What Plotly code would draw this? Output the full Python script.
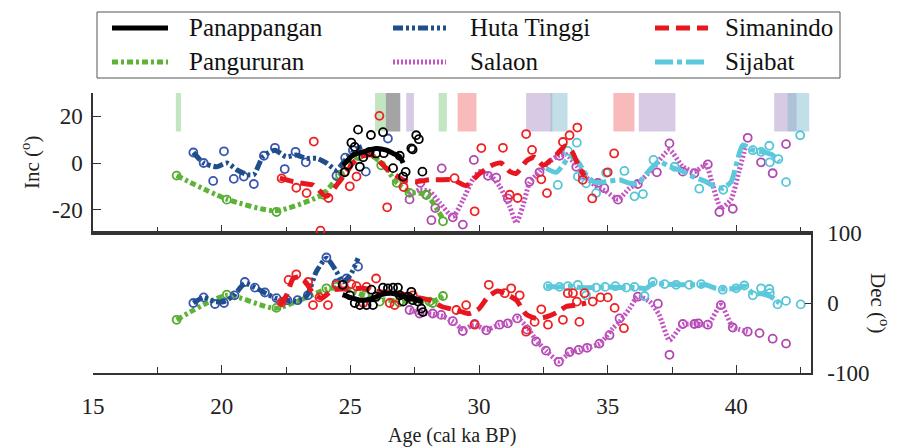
import plotly.graph_objects as go

# ---------------- Pangururan ----------------
pangururan_inc_age = [18.25, 20.2, 22.13, 23.95, 24.6, 25.3, 26.2, 26.8, 27.3, 27.95, 28.6]
pangururan_inc = [-5.4, -15.7, -21.0, -13.6, -5.0, 3.0, -1.0, -8.5, -12.8, -13.6, -25.0]
pangururan_inc_fit_age = [18.25, 20.2, 22.1, 23.9, 24.6, 25.3, 25.7, 26.3, 26.8, 27.3, 27.95, 28.6]
pangururan_inc_fit = [-5.4, -15.5, -20.5, -13.6, -5.0, 3.0, 4.0, -1.0, -8.5, -12.5, -13.6, -24.0]
pangururan_dec_age = [18.25, 20.2, 22.13, 24.07, 24.46, 25.56, 26.14, 26.9, 28.08, 28.2, 28.6]
pangururan_dec = [-24, 12, -7, 21, 23, 11, 2, 1, 2, 0, 10]
pangururan_dec_fit_age = [18.25, 20.2, 22.1, 24.1, 24.6, 25.3, 26.0, 26.8, 27.6, 28.1, 28.6]
pangururan_dec_fit = [-24, 11, -7.6, 20, 22, 14, 6, 3, 2, 0, 10]

# ---------------- Huta Tinggi ----------------
huta_inc_age = [18.9, 19.3, 19.67, 20.09, 20.47, 20.86, 21.25, 21.64, 22.07, 22.45, 22.87, 23.27,
                24.46, 24.8, 25.1, 25.6, 26.46]
huta_inc = [4.5, 0.0, -7.7, 5.0, -6.8, -5.8, -9.0, 3.1, 6.5, -2.6, 4.8, 0.3,
            -5.5, 2.3, 5.5, -3.7, 10.5]
huta_inc_fit_age = [18.9, 19.3, 19.8, 20.2, 20.6, 21.0, 21.25, 21.6, 22.07, 22.5, 22.9, 23.27,
                    23.7, 24.07, 24.46, 24.85, 25.24, 25.45]
huta_inc_fit = [4.5, 0.0, -1.6, 0.0, -3.0, -5.0, -5.0, 2.7, 5.5, 2.7, 3.4, 2.0,
                2.0, 0.0, -3.0, 2.0, 6.0, 7.0]
huta_dec_age = [18.9, 19.3, 19.74, 20.09, 20.5, 20.9, 21.29, 21.68, 22.13, 22.55, 22.95, 23.35,
                24.07, 24.46, 24.85, 25.3]
huta_dec = [0, 8, -1.4, 0, 11, 30, 22, 15, 7, 4, 4, 11, 65, 28, 35, 52]
huta_dec_fit_age = [18.9, 19.3, 19.7, 20.1, 20.5, 20.9, 21.3, 21.7, 22.1, 22.5, 22.9, 23.3,
                    23.68, 24.07, 24.46, 24.7, 25.0, 25.3]
huta_dec_fit = [0, 8, 2, 2, 12, 28, 22, 14, 7, 4, 3, 10, 45, 64, 45, 30, 40, 64]

# ---------------- Panappangan ----------------
panap_inc_age = [24.78, 24.91, 25.04, 25.17, 25.3, 25.37, 25.5, 25.75, 25.8, 26.0, 26.27, 26.3,
                 26.66, 26.92, 27.05, 27.15, 27.37, 27.42, 27.56, 27.66, 27.8]
panap_inc = [-4.0, -0.9, 8.7, 6.9, 14.3, -1.6, 2.5, 4.8, 12.0, 4.1, 13.2, 4.2,
             -2.2, 3.1, -5.8, -3.8, 6.3, 5.8, 11.9, 10.2, -3.7]
panap_inc_fit_age = [24.72, 25.1, 25.5, 26.0, 26.4, 26.66, 26.92, 27.05]
panap_inc_fit = [-0.9, 3.4, 4.8, 6.2, 5.5, 4.1, 2.7, 0.0]
panap_dec_age = [24.7, 24.98, 25.17, 25.37, 25.63, 25.82, 25.88, 26.0, 26.27, 26.46, 26.66, 26.85,
                 26.92, 27.05, 27.24, 27.37, 27.43, 27.63, 27.76, 27.82]
panap_dec = [26, 11, 0, -3, -3, 19, -3, 9, 22, 21, 22, 22, 11, 2, 9, 16, 4, 2, -8, -13]
panap_dec_fit_age = [24.7, 25.0, 25.4, 25.8, 26.2, 26.6, 27.0, 27.4, 27.8]
panap_dec_fit = [12, 8, 4, 6, 12, 14, 10, 6, 2]

# ---------------- Simanindo ----------------
siman_inc_age = [22.33, 22.9, 23.3, 23.58, 23.84, 24.15, 24.78, 24.98, 25.24, 26.13, 26.43, 27.07,
                 29.05, 29.83, 30.09, 30.93, 31.19, 31.5, 31.83, 32.06, 32.42, 32.64, 33.26, 33.52,
                 33.82, 34.03, 34.4, 35.0, 35.25]
siman_inc = [-6.6, -10.6, -12.9, 9.2, -29.0, -15.0, -3.7, -10.0, -5.8, 20.2, -19.0, -10.3,
             -6.5, -20.7, 6.4, 6.5, -13.6, -15.0, 12.4, 5.6, -7.0, -12.9, 9.0, 11.9,
             15.2, -7.2, -15.2, -4.0, 4.1]
siman_inc_fit_age = [22.26, 22.78, 23.3, 23.55, 24.07, 24.5, 24.85, 25.1, 25.4, 25.8, 26.1, 26.4,
                     26.8, 27.1, 27.56, 28.08, 28.5, 29.0, 29.5, 30.0, 30.5, 30.85, 31.2, 31.45,
                     31.85, 32.15, 32.5, 33.0, 33.35, 33.6, 33.9, 34.1]
siman_inc_fit = [-6.5, -8.0, -9.0, -9.4, -14.3, -9.0, -4.0, 0.0, 2.7, 3.5, 1.0, -2.3,
                 -5.5, -7.5, -8.0, -7.2, -7.2, -7.2, -9.7, -4.7, -1.0, 0.0, -3.7, -4.4,
                 1.0, 2.5, -1.0, 3.4, 7.3, 5.2, -2.0, -5.5]
siman_dec_age = [22.33, 22.6, 22.9, 23.36, 23.55, 23.8, 24.13, 24.46, 25.04, 25.24, 25.5, 25.63,
                 26.0, 26.53, 26.72, 27.3, 27.43, 29.12, 29.5, 29.83, 30.38, 31.0, 31.25, 31.58,
                 31.83, 32.16, 32.42, 32.68, 33.26, 33.45, 33.65, 33.8, 33.9, 34.1, 34.42, 34.72,
                 35.0, 35.27, 35.63]
siman_dec = [1, 33, 41, 30, -3, 8, -3, 26, 27, 24, 0, 23,
             35, 0, -3, 8, 11, -10, -3, -31, 26, 14, 21, 11,
             -41, -27, -9, -31, -24, 14, 14, 2, -27, 14, 2, 8,
             8, -7, -36]
siman_dec_fit_age = [22.26, 22.52, 22.78, 23.05, 23.3, 23.55, 23.88, 24.33, 24.85, 25.5, 26.14, 26.79,
                     27.43, 28.08, 28.55, 29.1, 29.63, 30.0, 30.35, 30.73, 31.1, 31.45, 31.83, 32.22,
                     32.6, 33.0, 33.39, 33.78, 34.16]
siman_dec_fit = [-3, 11, 35, 37, 28, 14, 7, 19, 20, 21, 16, 14,
                 9, 4, -5, -10, -15, -8, 9, 17, 12, 4, -16, -22,
                 -20, -14, -5, -3, 0]

# ---------------- Salaon ----------------
salaon_inc_age = [27.3, 27.72, 27.95, 28.15, 28.3, 28.55, 28.98, 29.37, 29.8, 30.35, 30.67, 31.12,
                  31.96, 32.35, 33.13, 33.78, 34.03, 34.62, 34.87, 35.4, 36.17, 36.91, 37.4, 37.92,
                  38.37, 38.89, 39.34, 39.86, 40.44, 40.96, 41.41, 41.93]
salaon_inc = [-15.6, -8.5, -13.6, -24.5, -19.3, -2.3, -23.3, -26.4, 1.3, -5.5, -6.3, -15.2,
              -8.0, -4.0, 3.1, -1.6, -5.0, -8.5, -10.8, -15.7, -9.0, -4.0, 8.4, -3.7,
              -4.4, -0.6, -21.0, -19.6, 10.8, 0.3, -4.4, 8.1]
salaon_inc_fit_age = [27.3, 27.7, 28.08, 28.47, 28.98, 29.37, 29.76, 30.02, 30.41, 30.8, 31.19, 31.45,
                      31.7, 31.96, 32.35, 32.74, 33.13, 33.4, 33.78, 34.16, 34.55, 34.94, 35.4, 35.85,
                      36.24, 36.75, 37.4, 37.92, 38.37, 38.82, 39.08, 39.4, 39.79, 40.1, 40.37]
salaon_inc_fit = [-13.6, -11.5, -12.2, -17.0, -23.0, -16.0, -7.0, -3.7, -5.0, -10.0, -18.6, -25.6,
                  -18.6, -8.7, -3.7, 0.6, 3.4, 3.5, -1.0, -6.0, -10.0, -12.2, -15.5, -10.8,
                  -8.0, -2.3, 5.5, -1.6, -3.7, -0.9, -9.4, -19.3, -15.7, -3.7, 7.7]
salaon_dec_age = [27.3, 27.69, 28.2, 28.53, 28.98, 29.37, 29.83, 30.28, 30.8, 31.12, 31.48, 31.86,
                  32.22, 32.6, 33.1, 33.52, 33.87, 34.2, 34.68, 35.07, 35.46, 36.17, 36.95, 37.4,
                  37.92, 38.37, 38.52, 38.89, 39.4, 39.86, 40.44, 40.9, 41.41, 41.93]
salaon_dec = [-10, -15, -15, -17, -26, -40, -30, -39, -31, -29, -22, -38,
              -55, -68, -84, -70, -67, -64, -58, -46, -22, 9, -1, -74,
              -30, -30, -29, -31, -3, -35, -41, -43, -51, -58]
salaon_dec_fit_age = [27.3, 27.7, 28.2, 28.6, 29.0, 29.4, 29.8, 30.3, 30.8, 31.1, 31.5, 31.9,
                      32.2, 32.6, 33.1, 33.5, 33.9, 34.3, 34.7, 35.2, 35.46, 35.85, 36.17, 36.63,
                      37.0, 37.4, 37.92, 38.44, 38.89, 39.4, 39.86, 40.44]
salaon_dec_fit = [-10, -14, -16, -19, -27, -38, -31, -38, -31, -29, -22, -36,
                  -52, -68, -83, -72, -67, -63, -58, -36, -27, -8, 9, 2,
                  -17, -53, -31, -30, -31, -3, -34, -41]

# ---------------- Sijabat ----------------
sijabat_inc_age = [33.06, 33.45, 33.8, 33.84, 34.16, 34.55, 34.94, 35.65, 36.04, 36.37, 36.78, 37.6,
                   38.56, 39.49, 40.64, 40.96, 41.28, 41.3, 41.63, 41.93, 42.48]
sijabat_inc = [-9.4, 5.2, 8.7, -5.8, -8.7, -12.9, -4.2, -3.4, -14.3, -13.3, 1.3, -1.6,
               -11.0, -11.5, 5.5, 4.8, 7.4, 0.3, 1.7, -8.2, 11.9]
sijabat_inc_fit_age = [32.61, 33.0, 33.26, 33.52, 33.84, 34.16, 34.5, 34.94, 35.46, 35.8, 36.17, 36.63,
                       37.0, 37.4, 37.79, 38.3, 38.82, 39.14, 39.47, 39.8, 39.99, 40.25, 40.64, 41.02,
                       41.41, 41.67]
sijabat_inc_fit = [-2.3, -4.0, -0.9, 2.7, 0.6, -5.0, -8.3, -8.0, -7.2, -8.5, -8.7, -3.0,
                   0.6, -1.6, -3.0, -5.8, -8.0, -10.0, -10.8, -8.0, -1.0, 7.7, 5.5, 4.8,
                   3.4, 0.6]
sijabat_dec_age = [32.68, 33.13, 33.45, 33.84, 34.16, 34.55, 34.9, 35.3, 35.72, 36.04, 36.43, 36.75,
                   37.21, 37.66, 38.17, 38.63, 39.47, 39.99, 40.31, 40.64, 40.96, 41.28, 41.3, 41.6,
                   41.93, 42.5]
sijabat_dec = [24, 23, 24, 26, 11, 22, 23, 24, 22, 23, 10, 30,
               27, 26, 26, 27, 19, 21, 25, 11, 21, 20, 14, -2,
               3, -2]
sijabat_dec_fit_age = [32.6, 33.1, 33.5, 33.9, 34.5, 35.0, 35.5, 36.0, 36.5, 36.75, 37.2, 37.8,
                       38.4, 38.8, 39.2, 39.6, 40.0, 40.35, 40.64, 41.0, 41.34, 41.67]
sijabat_dec_fit = [24, 23, 24, 22, 22, 23, 22, 22, 21, 28, 27, 26,
                   26, 26, 21, 20, 21, 24, 14, 13, 9, 0]

# ---------------- highlighted intervals (top panel) ----------------
band_start = [18.22, 25.96, 26.38, 27.17, 28.43, 29.17, 31.83, 32.78, 35.22, 36.21, 41.47, 41.99]
band_end = [18.42, 26.38, 26.94, 27.47, 28.75, 29.90, 32.85, 33.44, 36.04, 37.63, 42.34, 42.83]
band_kind = ["g", "g", "k", "p", "g", "r", "p", "c", "r", "p", "p", "c"]
band_top = 30
band_bottom = 13.5

x_major = [15, 20, 25, 30, 35, 40]
x_minor = [17.5, 22.5, 27.5, 32.5, 37.5, 42.5]
inc_ticks = [-20, 0, 20]
inc_labels = ["-20", "0", "20"]
dec_ticks = [-100, 0, 100]
dec_labels = ["-100", "0", "100"]

# key entries, in reading order (two rows of three)
key_names = ["Panappangan", "Huta Tinggi", "Simanindo", "Pangururan", "Salaon", "Sijabat"]

FONT = "Liberation Serif"

band_fill = {
    "g": "rgba(110,195,110,0.42)",
    "k": "rgba(90,90,90,0.55)",
    "p": "rgba(150,115,185,0.38)",
    "r": "rgba(238,90,90,0.42)",
    "c": "rgba(120,185,205,0.45)",
}

style = {
    # name: (point colour, line colour, dash)
    "Panappangan": ("#000000", "#000000", "solid"),
    "Huta Tinggi": ("#3856b0", "#1f4e8c", "10px,3px,3px,3px,3px,3px"),
    "Simanindo": ("#ee2222", "#e8171f", "14px,7px"),
    "Pangururan": ("#55aa33", "#5cb335", "6px,3px,3px,3px"),
    "Salaon": ("#b048b0", "#c255c2", "2px,2px"),
    "Sijabat": ("#55c5d8", "#5cc8dc", "18px,4px,5px,4px"),
}

# drawing order: later entries sit on top
sites = [
    ("Salaon", salaon_inc_age, salaon_inc, salaon_inc_fit_age, salaon_inc_fit,
     salaon_dec_age, salaon_dec, salaon_dec_fit_age, salaon_dec_fit),
    ("Sijabat", sijabat_inc_age, sijabat_inc, sijabat_inc_fit_age, sijabat_inc_fit,
     sijabat_dec_age, sijabat_dec, sijabat_dec_fit_age, sijabat_dec_fit),
    ("Pangururan", pangururan_inc_age, pangururan_inc, pangururan_inc_fit_age, pangururan_inc_fit,
     pangururan_dec_age, pangururan_dec, pangururan_dec_fit_age, pangururan_dec_fit),
    ("Huta Tinggi", huta_inc_age, huta_inc, huta_inc_fit_age, huta_inc_fit,
     huta_dec_age, huta_dec, huta_dec_fit_age, huta_dec_fit),
    ("Simanindo", siman_inc_age, siman_inc, siman_inc_fit_age, siman_inc_fit,
     siman_dec_age, siman_dec, siman_dec_fit_age, siman_dec_fit),
    ("Panappangan", panap_inc_age, panap_inc, panap_inc_fit_age, panap_inc_fit,
     panap_dec_age, panap_dec, panap_dec_fit_age, panap_dec_fit),
]

fig = go.Figure()

for (name, ia, iv, ifa, ifv, da, dv, dfa, dfv) in sites:
    pcol, lcol, dash = style[name]
    marker = dict(symbol="circle-open", size=8, color=pcol, line=dict(width=1.8, color=pcol))
    curve = dict(color=lcol, width=5, dash=dash, shape="spline", smoothing=0.6)
    # inclination: samples and smoothed curve
    fig.add_trace(go.Scatter(x=ia, y=iv, mode="markers", marker=marker, xaxis="x2", yaxis="y",
                             name=name, showlegend=False, hoverinfo="skip"))
    fig.add_trace(go.Scatter(x=ifa, y=ifv, mode="lines", line=curve, xaxis="x2", yaxis="y",
                             name=name, showlegend=False))
    # declination: samples and smoothed curve
    fig.add_trace(go.Scatter(x=da, y=dv, mode="markers", marker=marker, xaxis="x", yaxis="y2",
                             name=name, showlegend=False, hoverinfo="skip"))
    fig.add_trace(go.Scatter(x=dfa, y=dfv, mode="lines", line=curve, xaxis="x", yaxis="y2",
                             name=name, showlegend=False))

shapes = []
for x0, x1, k in zip(band_start, band_end, band_kind):
    shapes.append(dict(type="rect", xref="x2", yref="y", x0=x0, x1=x1, y0=band_bottom, y1=band_top,
                       fillcolor=band_fill[k], line=dict(width=0), layer="below"))

# ---- key box above the panels (pixel layout converted to paper fractions) ----
ML, MR, MT, MB, W, H = 93, 89, 93, 74, 900, 447
PW, PH = W - ML - MR, H - MT - MB


def px_x(p):
    return (p - ML) / PW


def px_y(p):
    return (H - MB - p) / PH


annotations = []
shapes.append(dict(type="rect", xref="paper", yref="paper",
                   x0=px_x(97), x1=px_x(840), y0=px_y(78), y1=px_y(12),
                   line=dict(color="#555555", width=1), fillcolor="white", layer="above"))
key_cols = [(112, 168, 187), (393, 446, 468), (655, 708, 723)]
key_rows = [28, 62]
for i, name in enumerate(key_names):
    _, lcol, dash = style[name]
    s0, s1, tx = key_cols[i % 3]
    yy = key_rows[i // 3]
    shapes.append(dict(type="line", xref="paper", yref="paper", x0=px_x(s0), x1=px_x(s1),
                       y0=px_y(yy), y1=px_y(yy), line=dict(color=lcol, width=5, dash=dash),
                       layer="above"))
    annotations.append(dict(text=name, xref="paper", yref="paper", x=px_x(tx), y=px_y(yy),
                            xanchor="left", yanchor="middle", showarrow=False,
                            font=dict(family=FONT, size=25, color="#111111")))

axis_line = dict(showline=True, linecolor="#333333", linewidth=1.5, showgrid=False, zeroline=False)
tick_font = dict(family=FONT, size=23, color="#222222")
title_font = dict(family=FONT, size=21, color="#222222")

annotations += [
    dict(text="Inc (<sup>o</sup>)", xref="paper", yref="paper", x=px_x(30), y=px_y(163),
         xanchor="center", yanchor="middle", textangle=-90, showarrow=False, font=title_font),
    dict(text="Dec (<sup>o</sup>)", xref="paper", yref="paper", x=px_x(880), y=px_y(303),
         xanchor="center", yanchor="middle", textangle=90, showarrow=False, font=title_font),
    dict(text="Age (cal ka BP)", xref="paper", yref="paper", x=0.5, y=px_y(435),
         xanchor="center", yanchor="middle", showarrow=False,
         font=dict(family=FONT, size=20, color="#222222")),
]

fig.update_layout(
    width=W, height=H,
    margin=dict(l=ML, r=MR, t=MT, b=MB),
    paper_bgcolor="white", plot_bgcolor="white",
    font=dict(family=FONT, color="#222222"),
    showlegend=False,
    shapes=shapes,
    annotations=annotations,
    xaxis=dict(domain=[0, 1], anchor="y2", range=[15, 42.9], tickvals=x_major,
               ticks="inside", ticklen=8, tickcolor="#333333", mirror=True,
               ticklabelstandoff=12,
               minor=dict(tickvals=x_minor, ticks="inside", ticklen=6, tickcolor="#333333"),
               tickfont=tick_font, **axis_line),
    xaxis2=dict(domain=[0, 1], anchor="y", matches="x", range=[15, 42.9], tickvals=x_major,
                ticks="inside", ticklen=8, tickcolor="#333333", showticklabels=False,
                minor=dict(tickvals=x_minor, ticks="inside", ticklen=6, tickcolor="#333333"),
                **axis_line),
    yaxis=dict(domain=[0.5, 1], anchor="x2", range=[-30, 30], tickvals=inc_ticks, ticktext=inc_labels,
               ticks="inside", ticklen=8, tickcolor="#333333", tickfont=tick_font,
               ticklabelstandoff=4, **axis_line),
    yaxis2=dict(domain=[0, 0.5], anchor="x", side="right", range=[-100, 100], tickvals=dec_ticks,
                ticktext=dec_labels, ticks="inside", ticklen=6, tickcolor="#333333",
                tickfont=tick_font, ticklabelstandoff=10, **axis_line),
)

fig.write_html("out.html")
